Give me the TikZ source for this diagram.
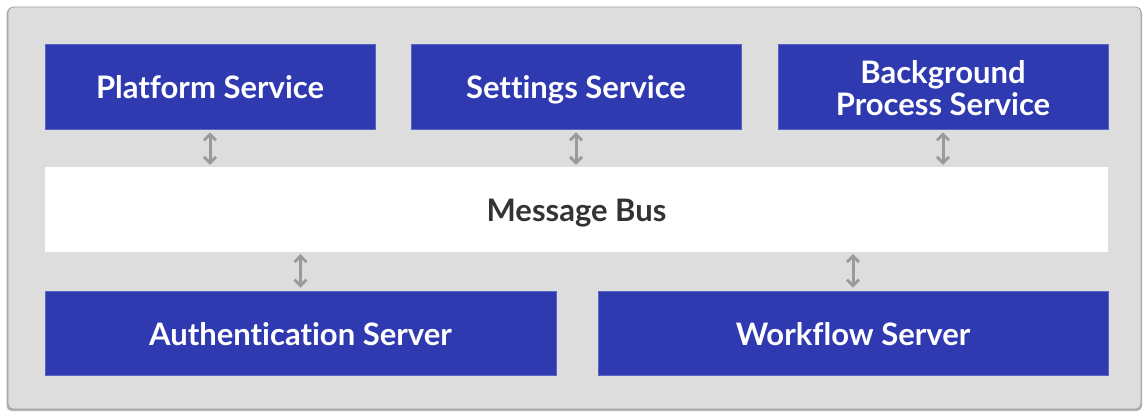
\documentclass[tikz,border=0pt]{standalone}
\usepackage{fontspec}
\setmainfont{Lato}[Ligatures={NoCommon}]
\usetikzlibrary{arrows.meta}
\definecolor{svcblue}{HTML}{2F39B0}
\definecolor{svcedge}{HTML}{5A63C4}
\definecolor{panel}{HTML}{DDDDDD}
\definecolor{paneledge}{HTML}{A0A0A0}
\definecolor{link}{HTML}{9A9A9A}
\definecolor{bustext}{HTML}{333333}
% lower a line of text without changing its box
\newcommand\droppedline[1]{\raisebox{-2pt}[\height][\depth]{#1}}
\tikzset{
  boxfont/.style={font=\fontsize{31}{32}\selectfont\bfseries},
  svc/.style={fill=svcblue, draw=svcedge, line width=0.6pt, text=white,
    boxfont, align=center, inner sep=0pt},
  oneline/.style={text height=25pt, text depth=0pt},
  bus/.style={fill=white, text=bustext, boxfont, inner sep=0pt, oneline},
  link/.style={draw=link, line width=3pt,
    {Straight Barb[length=6pt,width=12pt,line width=2.8pt]}-{Straight Barb[length=6pt,width=12pt,line width=2.8pt]}},
}
\begin{document}
\begin{tikzpicture}[x=1pt,y=-1pt]
\useasboundingbox (0,0) rectangle (1144,414);
\fill[white] (0,0) rectangle (1144,414);
% outer panel with a soft shadow
\fill[black!30, rounded corners=5pt] (6.5,8) rectangle (1142,411);
\filldraw[fill=panel, draw=paneledge, line width=0.8pt, rounded corners=5pt] (8,7) rectangle (1141,409);
% services
\node[svc, oneline, minimum width=330pt, minimum height=85pt] (platform) at (210,86.5) {Platform Service};
\node[svc, oneline, minimum width=330pt, minimum height=85pt] (settings) at (576,86.5) {Settings Service};
\node[svc, minimum width=330pt, minimum height=85pt] (background) at (943,86.5)
  {\droppedline{Background}\\\droppedline{Process Service}};
\node[bus, minimum width=1063pt, minimum height=85pt] (messagebus) at (576.5,209.5) {Message Bus};
\node[svc, oneline, minimum width=511pt, minimum height=84pt] (auth) at (300.5,333) {Authentication Server};
\node[svc, oneline, minimum width=510pt, minimum height=84pt] (workflow) at (853,333) {Workflow Server};
% connections to the bus
\draw[link] ([yshift=-3pt]platform.south) -- ([yshift=2pt]messagebus.north -| platform.south);
\draw[link] ([yshift=-3pt]settings.south) -- ([yshift=2pt]messagebus.north -| settings.south);
\draw[link] ([yshift=-3pt]background.south) -- ([yshift=2pt]messagebus.north -| background.south);
\draw[link] ([yshift=-2pt]messagebus.south -| auth.north) -- ([yshift=3pt]auth.north);
\draw[link] ([yshift=-2pt]messagebus.south -| workflow.north) -- ([yshift=3pt]workflow.north);
\end{tikzpicture}
\end{document}
